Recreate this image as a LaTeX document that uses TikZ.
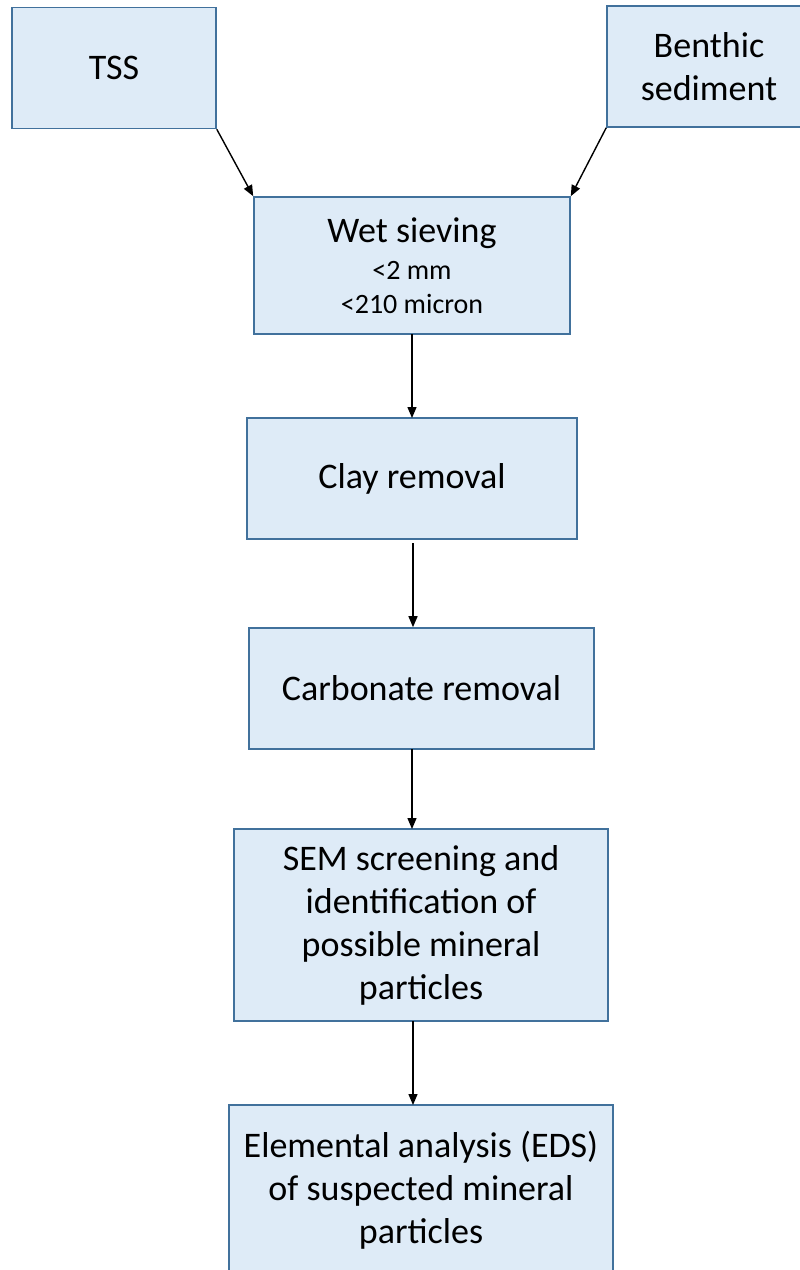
\documentclass[tikz,border=0pt]{standalone}
\usepackage{fontspec}
\setmainfont{Carlito}
\usetikzlibrary{arrows.meta}
\definecolor{boxfill}{HTML}{DEEBF7}
\definecolor{boxline}{HTML}{41719C}
\newcommand{\sievesize}{\fontsize{28}{34}\selectfont}
\tikzset{
  flowbox/.style={draw=boxline, fill=boxfill, line width=1.6pt, inner sep=0pt,
    align=center, font=\fontsize{36}{43}\selectfont},
  flowarrow/.style={line width=1.4pt, -{Triangle[length=11pt,width=9pt]}},
}
\begin{document}
\begin{tikzpicture}[x=1pt,y=-1pt]
\useasboundingbox (0,0) rectangle (800,1270);
\node[flowbox, minimum width=204pt, minimum height=121pt] (tss) at (114,68) {TSS};
\node[flowbox, minimum width=204pt, minimum height=121pt] (benthic) at (709,66.5) {Benthic\\sediment};
\node[flowbox, minimum width=316pt, minimum height=137pt] (sieve) at (412,265.5)
  {Wet sieving\\[-6pt]\sievesize <2 mm\\[-9pt]\sievesize <210 micron};
\node[flowbox, minimum width=330pt, minimum height=121pt] (clay) at (412,478.5) {Clay removal};
\node[flowbox, minimum width=345pt, minimum height=121pt] (carb) at (421.5,688.5) {Carbonate removal};
\node[flowbox, minimum width=374pt, minimum height=192pt] (sem) at (421,925)
  {SEM screening and\\identification of\\possible mineral\\particles};
\node[flowbox, minimum width=384pt, minimum height=170pt] (eds) at (421,1190)
  {Elemental analysis (EDS)\\of suspected mineral\\particles};
\draw[flowarrow] (tss.south east) -- (sieve.north west);
\draw[flowarrow] (benthic.south west) -- (sieve.north east);
\draw[flowarrow] (412,334) -- (412,418);
\draw[flowarrow] (413,543) -- (413,418 |- carb.north);
\draw[flowarrow] (412,749) -- (412,829);
\draw[flowarrow] (413,1021) -- (413,1105);
\end{tikzpicture}
\end{document}
